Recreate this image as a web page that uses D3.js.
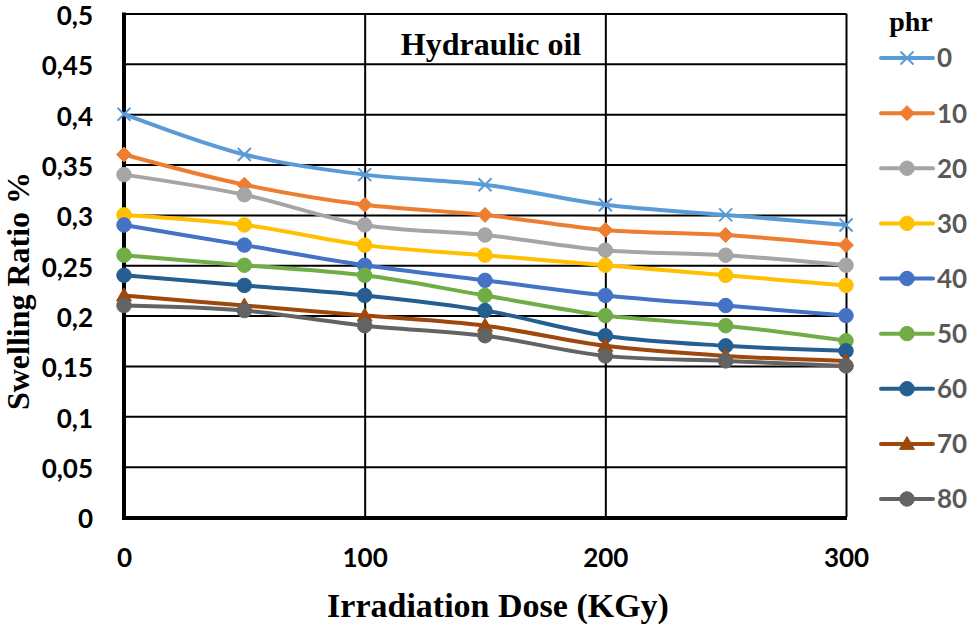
<!DOCTYPE html>
<html>
<head>
<meta charset="utf-8">
<script src="https://cdn.jsdelivr.net/npm/d3@7"></script>
<style>
  body { margin: 0; background: #fff; }
</style>
</head>
<body>
<div id="chart"></div>
<script>
// irradiation dose (KGy)
const doses = [0, 50, 100, 150, 200, 250, 300];
const phrLevels = ["0", "10", "20", "30", "40", "50", "60", "70", "80"];

// swelling ratio % per phr level
const phr0 = [0.40, 0.36, 0.34, 0.33, 0.31, 0.30, 0.29];
const phr10 = [0.36, 0.33, 0.31, 0.30, 0.285, 0.28, 0.27];
const phr20 = [0.34, 0.32, 0.29, 0.28, 0.265, 0.26, 0.25];
const phr30 = [0.30, 0.29, 0.27, 0.26, 0.25, 0.24, 0.23];
const phr40 = [0.29, 0.27, 0.25, 0.235, 0.22, 0.21, 0.20];
const phr50 = [0.26, 0.25, 0.24, 0.22, 0.20, 0.19, 0.175];
const phr60 = [0.24, 0.23, 0.22, 0.205, 0.18, 0.17, 0.165];
const phr70 = [0.22, 0.21, 0.20, 0.19, 0.17, 0.16, 0.155];
const phr80 = [0.21, 0.205, 0.19, 0.18, 0.16, 0.155, 0.15];

const yTicks = [0, 0.05, 0.1, 0.15, 0.2, 0.25, 0.3, 0.35, 0.4, 0.45, 0.5];
const xTicks = [0, 100, 200, 300];

const colors = ["#5B9BD5", "#ED7D31", "#A5A5A5", "#FFC000", "#4472C4", "#70AD47", "#255E91", "#9E480E", "#636363"];
const markers = ["x", "diamond", "circle", "circle", "circle", "circle", "circle", "triangle", "circle"];

const allValues = [phr0, phr10, phr20, phr30, phr40, phr50, phr60, phr70, phr80];
const series = phrLevels.map((name, i) => ({
    name: name,
    color: colors[i],
    marker: markers[i],
    points: doses.map((d, j) => ({ dose: d, value: allValues[i][j] }))
}));

const width = 974;
const height = 626;
const plotLeft = 124;
const plotRight = 846;
const plotTop = 13.5;
const plotBottom = 517;

const x = d3.scaleLinear().domain([0, 300]).range([plotLeft, plotRight]);
const y = d3.scaleLinear().domain([0, 0.5]).range([plotBottom, plotTop]);

const locale = d3.formatLocale({ decimal: ",", thousands: ".", grouping: [3], currency: ["", ""] });
const fmt = locale.format("~g");

const svg = d3.select("#chart").append("svg")
    .attr("width", width)
    .attr("height", height)
    .attr("viewBox", [0, 0, width, height]);

const tickFont = "Lato, 'Open Sans', sans-serif";
const serifFont = "'Liberation Serif', 'Times New Roman', serif";

// horizontal gridlines + y labels
svg.append("g")
    .attr("transform", `translate(${plotLeft},0)`)
    .call(d3.axisLeft(y).tickValues(yTicks).tickFormat(fmt)
        .tickSize(-(plotRight - plotLeft)).tickPadding(31))
    .call(g => g.select(".domain").remove())
    .call(g => g.selectAll(".tick line").attr("stroke", "#000").attr("stroke-width", 2))
    .call(g => g.selectAll(".tick text")
        .attr("dy", "0.42em")
        .attr("font-family", tickFont)
        .attr("font-weight", 700)
        .attr("font-size", 26)
        .attr("fill", "#000"));

// vertical gridlines + x labels
svg.append("g")
    .attr("transform", `translate(0,${plotBottom})`)
    .call(d3.axisBottom(x).tickValues(xTicks).tickFormat(d3.format("d"))
        .tickSize(-(plotBottom - plotTop)).tickPadding(32))
    .call(g => g.select(".domain").remove())
    .call(g => g.selectAll(".tick line").attr("stroke", "#000").attr("stroke-width", 2))
    .call(g => g.selectAll(".tick text")
        .attr("font-family", tickFont)
        .attr("font-weight", 700)
        .attr("font-size", 26)
        .attr("fill", "#000"));

// thick axis lines
svg.append("line")
    .attr("x1", plotLeft).attr("x2", plotLeft)
    .attr("y1", plotTop - 1).attr("y2", plotBottom + 3)
    .attr("stroke", "#000").attr("stroke-width", 4);
svg.append("line")
    .attr("x1", plotLeft - 2).attr("x2", plotRight + 1)
    .attr("y1", plotBottom + 1).attr("y2", plotBottom + 1)
    .attr("stroke", "#000").attr("stroke-width", 4);

function markerPath(type) {
    if (type === "circle") return d3.symbol(d3.symbolCircle, 165)();
    if (type === "triangle") return "M0,-7.5L7.5,5.5L-7.5,5.5Z";
    if (type === "diamond") return "M0,-7.5L7.5,0L0,7.5L-7.5,0Z";
    return "M-6.5,-6.5L6.5,6.5M-6.5,6.5L6.5,-6.5";
}

function drawMarker(sel, s) {
    sel.append("path")
        .attr("d", markerPath(s.marker))
        .attr("fill", s.marker === "x" ? "none" : s.color)
        .attr("stroke", s.color)
        .attr("stroke-width", s.marker === "x" ? 2 : 1);
}

const line = d3.line()
    .curve(d3.curveCatmullRom.alpha(0.5))
    .x(d => x(d.dose))
    .y(d => y(d.value));

series.forEach(s => {
    const g = svg.append("g");
    g.append("path")
        .datum(s.points)
        .attr("fill", "none")
        .attr("stroke", s.color)
        .attr("stroke-width", 4)
        .attr("stroke-linejoin", "round")
        .attr("stroke-linecap", "round")
        .attr("d", line);
    g.selectAll("g.pt")
        .data(s.points)
        .join("g")
        .attr("class", "pt")
        .attr("transform", d => `translate(${x(d.dose)},${y(d.value)})`)
        .each(function() { drawMarker(d3.select(this), s); });
});

// chart title
svg.append("text")
    .attr("x", 491)
    .attr("y", 55)
    .attr("text-anchor", "middle")
    .attr("font-family", serifFont)
    .attr("font-weight", 700)
    .attr("font-size", 32)
    .text("Hydraulic oil");

// axis titles
svg.append("text")
    .attr("x", 498)
    .attr("y", 617)
    .attr("text-anchor", "middle")
    .attr("font-family", serifFont)
    .attr("font-weight", 700)
    .attr("font-size", 34)
    .text("Irradiation Dose (KGy)");

svg.append("text")
    .attr("transform", "translate(29,291) rotate(-90)")
    .attr("text-anchor", "middle")
    .attr("font-family", serifFont)
    .attr("font-weight", 700)
    .attr("font-size", 32)
    .text("Swelling Ratio %");

// legend
const legend = svg.append("g");
legend.append("text")
    .attr("x", 911)
    .attr("y", 31)
    .attr("text-anchor", "middle")
    .attr("font-family", serifFont)
    .attr("font-weight", 700)
    .attr("font-size", 28)
    .text("phr");

const legendY = d3.scalePoint().domain(phrLevels).range([58, 499]);

series.forEach(s => {
    const row = legend.append("g").attr("transform", `translate(0,${legendY(s.name)})`);
    row.append("line")
        .attr("x1", 881).attr("x2", 933)
        .attr("stroke", s.color).attr("stroke-width", 4)
        .attr("stroke-linecap", "round");
    const m = row.append("g").attr("transform", "translate(907,0)");
    drawMarker(m, s);
    row.append("text")
        .attr("x", 937)
        .attr("dy", "0.36em")
        .attr("font-family", tickFont)
        .attr("font-weight", 700)
        .attr("font-size", 26)
        .attr("fill", "#595959")
        .text(s.name);
});
</script>
</body>
</html>
